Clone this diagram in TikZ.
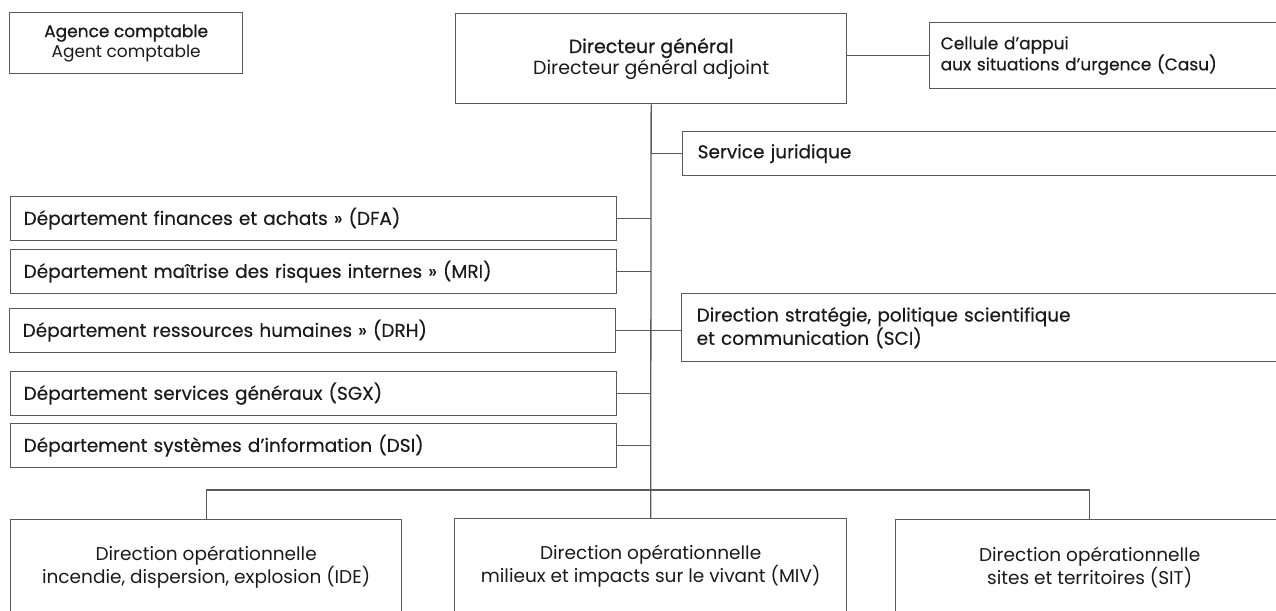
\documentclass[tikz,border=0pt]{standalone}
\usepackage{fontspec}
\setmainfont{Poppins}
\usetikzlibrary{positioning}
\definecolor{framegray}{HTML}{5A5A5A}
\definecolor{inkgray}{HTML}{1A1A1A}
\newcommand{\semibold}{\addfontfeature{FakeBold=0.8}}
\newcommand{\medweight}{\addfontfeature{FakeBold=0.3}}

\begin{document}
\begin{tikzpicture}[
    x=1pt, y=-1pt,
    font=\fontsize{18.5}{22}\selectfont,
    text=inkgray,
    box/.style={draw=framegray, line width=1.3pt, anchor=north west, inner xsep=13pt, inner ysep=0pt},
    dept/.style={box, minimum width=606pt, minimum height=44pt, text width=580pt, align=left,
                 font=\fontsize{18.5}{22}\selectfont\medweight},
    side/.style={box, inner xsep=15pt, text width=588pt, align=left,
                 font=\fontsize{18.5}{22}\selectfont\medweight},
    ops/.style={box, minimum height=95pt, align=center},
    link/.style={framegray, line width=1.3pt}
]
\useasboundingbox (0,0) rectangle (1276,610);
\clip (0,0) rectangle (1276,610);

% Top row
\node[box, minimum width=233pt, minimum height=61pt, align=center,
      font=\fontsize{17}{20}\selectfont] (acct) at (9,12)
    {{\semibold Agence comptable}\\Agent comptable};
\node[box, minimum width=391pt, minimum height=90pt, align=center,
      font=\fontsize{19}{21}\selectfont] (dg) at (455,13)
    {{\semibold Directeur général}\\Directeur général adjoint};
\node[box, inner xsep=11pt, text width=349pt, minimum height=66pt, align=left,
      font=\fontsize{17}{21}\selectfont\medweight] (casu) at (929,22)
    {Cellule d’appui\\aux situations d’urgence (Casu)};

% Staff units on the right
\node[side, minimum height=44pt] (sj) at (682,131) {Service juridique};
\node[side, minimum height=68pt] (sci) at (681,293)
    {Direction stratégie, politique scientifique\\et communication (SCI)};

% Support departments on the left
\node[dept] (dfa) at (10,196) {Département finances et achats » (DFA)};
\node[dept] (mri) at (10,249) {Département maîtrise des risques internes » (MRI)};
\node[dept] (drh) at (9,308) {Département ressources humaines » (DRH)};
\node[dept] (sgx) at (10,371) {Département services généraux (SGX)};
\node[dept] (dsi) at (10,423) {Département systèmes d’information (DSI)};

% Operational directorates
\node[ops, minimum width=391pt] (ide) at (10,519)
    {Direction opérationnelle\\incendie, dispersion, explosion (IDE)};
\node[ops, minimum width=392pt] (miv) at (454,518)
    {Direction opérationnelle\\milieux et impacts sur le vivant (MIV)};
\node[ops, minimum width=388pt] (sit) at (895,519)
    {Direction opérationnelle\\sites et territoires (SIT)};

% Links
\draw[link] (dg.south) -- (miv.north);
\draw[link] (dg.east |- casu.west) -- (casu.west);
\draw[link] (dg.south |- sj.west) -- (sj.west);
\foreach \d in {dfa, mri, sgx, dsi}
    \draw[link] (\d.east) -- (dg.south |- \d.east);
\draw[link] (drh.east) -- (drh.east -| sci.west);

% Bus to the operational directorates
\coordinate (bus) at (650,490);
\draw[link] (ide.north) -- (ide.north |- bus) -- (sit.north |- bus) -- (sit.north);

\end{tikzpicture}
\end{document}
